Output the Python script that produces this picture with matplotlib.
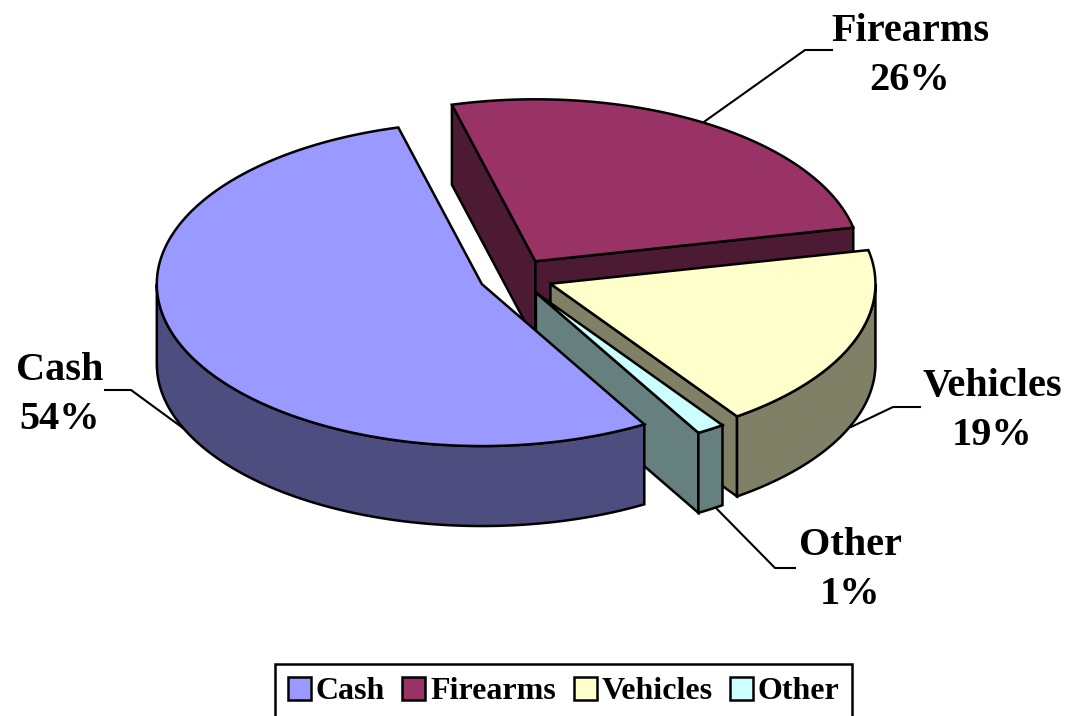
import numpy as np
import matplotlib.pyplot as plt
from matplotlib.patches import Polygon, Patch

# Data
categories = ['Cash', 'Firearms', 'Vehicles', 'Other']
values = [54.2, 25.8, 18.6, 1.4]
top_colors = ['#9999FF', '#993366', '#FFFFCC', '#CCFFFF']
side_colors = ['#4D4D80', '#4D1A33', '#808066', '#668080']

# Where the labels and leader lines sit (pixels)
label_pos = [(60, 395), (910, 56), (992, 411), (850, 570)]
leaders = [[(105, 390), (131, 390), (187, 431)],
           [(832, 50), (805, 50), (701, 124)],
           [(920, 407), (893, 407), (851, 427)],
           [(795, 568), (775, 568), (716, 508)]]

# Pie geometry (pixels)
cx, cy = 516, 277
rx, ry = 325, 162
depth = 80
explode = 37
first_angle = -60  # Cash starts here, slices run clockwise
draw_order = [1, 2, 3, 0]  # back to front

plt.rcParams['font.family'] = ['Liberation Serif', 'DejaVu Serif']
plt.rcParams['font.weight'] = 'bold'

fig = plt.figure(figsize=(10.67, 7.16), dpi=100)
ax = fig.add_axes([0, 0, 1, 1])
ax.set_xlim(0, 1067)
ax.set_ylim(716, 0)
ax.axis('off')


def ell(x0, y0, deg):
    a = np.radians(deg)
    return np.column_stack([x0 + rx * np.cos(a), y0 - ry * np.sin(a)])


def face(pts, color, z):
    ax.add_patch(Polygon(pts, closed=True, facecolor=color, edgecolor='black',
                         linewidth=1.8, joinstyle='miter', zorder=z))


sweeps = np.array(values) / sum(values) * 360
starts = first_angle - np.concatenate([[0], np.cumsum(sweeps)[:-1]])
starts = (starts + 180) % 360 - 180

for order, i in enumerate(draw_order):
    a1 = starts[i]
    a2 = a1 - sweeps[i]
    mid = np.radians((a1 + a2) / 2)
    x0 = cx + explode * np.cos(mid)
    y0 = cy - explode * ry / rx * np.sin(mid)
    z = 2 + order
    down = np.array([0, depth])
    apex = np.array([[x0, y0]])

    # flat cut faces, only those turned towards the viewer
    if np.sin(np.radians(a1 + 90)) < 0:
        p = ell(x0, y0, np.array([a1]))
        face(np.vstack([apex, p, p + down, apex + down]), side_colors[i], z)
    if np.sin(np.radians(a2 - 90)) < 0:
        p = ell(x0, y0, np.array([a2]))
        face(np.vstack([apex, p, p + down, apex + down]), side_colors[i], z)

    # outer rim, lower half of the ellipse only
    lo, hi = max(a2, -180), min(a1, 0)
    if hi > lo:
        arc = ell(x0, y0, np.linspace(lo, hi, 80))
        face(np.vstack([arc, arc[::-1] + down]), side_colors[i], z)

    # top
    arc = ell(x0, y0, np.linspace(a1, a2, 200))
    face(np.vstack([apex, arc]), top_colors[i], z)

for i, cat in enumerate(categories):
    xs, ys = zip(*leaders[i])
    ax.plot(xs, ys, color='black', linewidth=1.5, zorder=1)
    ax.text(label_pos[i][0], label_pos[i][1], f'{cat}\n{values[i]:.0f}%', ha='center',
            va='center', fontsize=29, fontweight='bold', linespacing=1.4, zorder=10)

handles = [Patch(facecolor=c, edgecolor='black', linewidth=1.8) for c in top_colors]
leg = ax.legend(handles, categories, loc='upper left', bbox_to_anchor=(275, 664),
                bbox_transform=ax.transData, ncol=4, frameon=True,
                fancybox=False, edgecolor='black', framealpha=1, borderaxespad=0,
                borderpad=0.4, handlelength=0.72, handleheight=0.72,
                handletextpad=0.15, columnspacing=0.55,
                prop={'family': 'Liberation Serif', 'weight': 'bold', 'size': 23})
leg.get_frame().set_linewidth(1.8)
leg.set_zorder(10)

fig.savefig('out.png', dpi=100)
